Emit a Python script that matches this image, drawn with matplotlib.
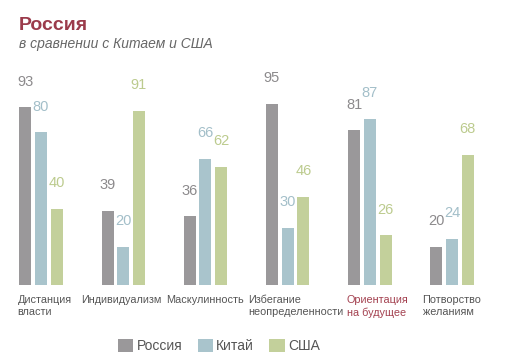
import numpy as np
import matplotlib.pyplot as plt
from matplotlib.patches import Patch

plt.rcParams['font.family'] = ['Liberation Sans', 'DejaVu Sans']

categories = ['Дистанция\nвласти', 'Индивидуализм', 'Маскулинность',
              'Избегание\nнеопределенности', 'Ориентация\nна будущее', 'Потворство\nжеланиям']
series = ['Россия', 'Китай', 'США']
russia = [93, 39, 36, 95, 81, 20]
china = [80, 20, 66, 30, 87, 24]
usa = [40, 91, 62, 46, 26, 68]

colors = ['#9a989a', '#a9c4cc', '#c3d09b']
label_colors = ['#8c8a8c', '#a3bfc9', '#bccb8e']
text_color = '#555555'
accent = '#a3404f'

W, H = 520, 363
fig = plt.figure(figsize=(W / 100, H / 100), dpi=100)
base_px = 285
scale = 1.91  # px per unit
ax = fig.add_axes([0, (H - base_px) / H, 1, 100 * scale / H])
ax.set_xlim(0, W)
ax.set_ylim(0, 100)
ax.axis('off')

centers = 41 + np.arange(len(categories)) * 82.2
step = 15.7
width = 12
# небольшие сдвиги подписей категорий (пиксели), как в оригинале
label_shift = [3.5, -2, 0, 8, 8, 0]

for j, (vals, c, lc) in enumerate(zip([russia, china, usa], colors, label_colors)):
    xs = centers + (j - 1) * step
    ax.bar(xs, vals, width=width, color=c, edgecolor='none')
    for x, v in zip(xs, vals):
        ax.annotate(str(v), (x, v), xytext=(0, 18.5), textcoords='offset points',
                    ha='center', va='center', fontsize=10.5, color=lc)

for i, (x, cat) in enumerate(zip(centers, categories)):
    col = accent if i == 4 else text_color
    ax.annotate(cat, (x + label_shift[i], 0), xytext=(0, -7.5),
                textcoords='offset points', ha='center', va='top',
                multialignment='left', fontsize=7.8, color=col, linespacing=1.2,
                annotation_clip=False)

fig.text(19 / W, 1 - 25 / H, 'Россия', fontsize=14, fontweight='bold',
         color='#9b3b4b', va='center', ha='left')
fig.text(19 / W, 1 - 44 / H, 'в сравнении с Китаем и США', fontsize=10,
         style='italic', color='#666666', va='center', ha='left')

handles = [Patch(facecolor=c, edgecolor='none') for c in colors]
leg = fig.legend(handles, series, loc='center', bbox_to_anchor=(0.421, 1 - 345.7 / H),
                 ncol=3, frameon=False, fontsize=10, handlelength=1.1, handleheight=1.1,
                 handletextpad=0.25, columnspacing=1.1, labelcolor=text_color)

fig.savefig('out.png', dpi=100, facecolor='white')
